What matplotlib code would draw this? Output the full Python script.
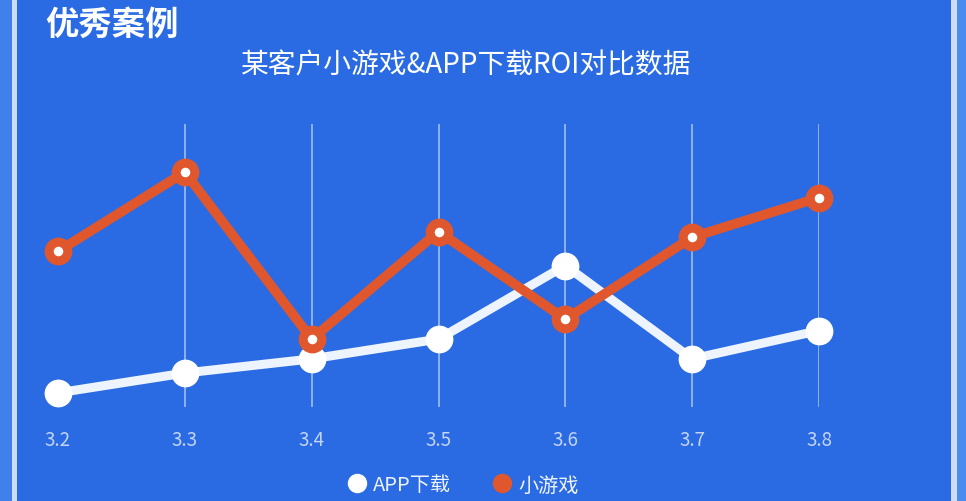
import matplotlib
matplotlib.use("Agg")
import matplotlib.pyplot as plt
from matplotlib.lines import Line2D
from matplotlib.patches import Rectangle

plt.rcParams['font.family'] = ['Noto Sans CJK SC', 'DejaVu Sans']

# ROI per day (arbitrary 0-100 scale)
dates = ['3.2', '3.3', '3.4', '3.5', '3.6', '3.7', '3.8']
app_roi = [5, 12, 17, 24, 50, 17, 27]
game_roi = [55, 83, 24, 62, 31, 60, 74]
series_names = ['APP下载', '小游戏']

BG = '#2a6be3'
ORANGE = '#e0572d'
W, H = 966, 502

fig = plt.figure(figsize=(W / 100, H / 100), dpi=100)
fig.patch.set_facecolor(BG)

# frame stripes on the sides
def px_rect(x0, x1, color):
    fig.patches.append(Rectangle((x0 / W, 0), (x1 - x0) / W, 1, transform=fig.transFigure,
                                 facecolor=color, edgecolor='none', zorder=0))

px_rect(0, 12, '#3f80ec')
px_rect(12, 17, '#cfdcf8')
px_rect(951, 957, '#cfdcf8')
px_rect(957, 966, '#4a8cf0')

# plot area in pixel terms: x from 58 to 819, y from 125 to 408
ax = fig.add_axes([58 / W, (H - 408) / H, (819 - 58) / W, (408 - 125) / H])
ax.set_facecolor('none')
ax.set_xlim(0, len(dates) - 1)
ax.set_ylim(0, 100)
for s in ax.spines.values():
    s.set_visible(False)
ax.set_yticks([])
x = list(range(len(dates)))
ax.set_xticks(x)
ax.set_xticklabels(dates)
ax.tick_params(axis='x', length=0, pad=16, labelsize=13.5, labelcolor='#c3d4f6')

for xi in x[1:]:
    ax.axvline(xi, color='#9fbcf0', lw=1.2, zorder=1)

ax.plot(x, app_roi, color='#eef4fd', lw=6.5, marker='o', ms=20,
        mfc='white', mec='white', mew=0, zorder=3, clip_on=False,
        solid_joinstyle='round')
ax.plot(x, game_roi, color=ORANGE, lw=7, marker='o', ms=13.5,
        mfc='white', mec=ORANGE, mew=6.5, zorder=4, clip_on=False,
        solid_joinstyle='round')

fig.text(45 / W, 1 - 25 / H, '优秀案例', color='white', fontsize=24,
         fontweight='heavy', ha='left', va='center')
fig.text(466 / W, 1 - 65 / H, '某客户小游戏&APP下载ROI对比数据', color='white',
         fontsize=20, ha='center', va='center')

handles = [
    Line2D([], [], ls='none', marker='o', ms=13, mfc='white', mec='white'),
    Line2D([], [], ls='none', marker='o', ms=13, mfc=ORANGE, mec=ORANGE),
]
leg = fig.legend(handles, series_names, loc='center', bbox_to_anchor=(462 / W, 1 - 486 / H),
                 ncol=2, frameon=False, fontsize=14.5, handletextpad=0.25,
                 columnspacing=2.0, handlelength=1.1)
for t in leg.get_texts():
    t.set_color('#eef3fd')

fig.savefig('out.png', dpi=100, facecolor=BG)
